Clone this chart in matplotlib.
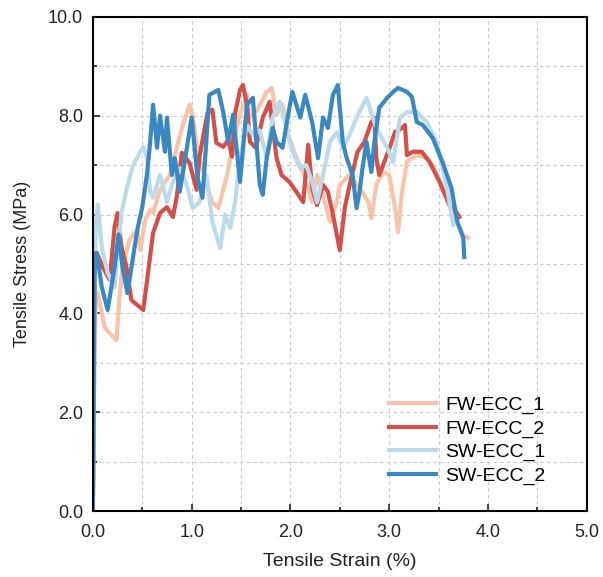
#!/usr/bin/env python3

# tensile stress-strain curves, FW-ECC vs SW-ECC

import matplotlib as mpl
mpl.use('Agg')
import matplotlib.pyplot as plt
from matplotlib.ticker import MultipleLocator, FormatStrFormatter

plt.rcParams['font.family'] = ['Liberation Sans', 'DejaVu Sans']

# values
fw1_strain = [0, 0.01, 0.03, 0.05, 0.12, 0.17, 0.24, 0.27, 0.30, 0.37, 0.45, 0.48,
        0.53, 0.58, 0.61, 0.68, 0.78, 0.85, 0.91, 0.98, 1.02, 1.06, 1.11, 1.15,
        1.21, 1.27, 1.36, 1.42, 1.49, 1.56, 1.59, 1.66, 1.76, 1.81, 1.86, 1.92,
        1.98, 2.05, 2.12, 2.17, 2.22, 2.27, 2.33, 2.40, 2.47, 2.50, 2.60, 2.70,
        2.79, 2.82, 2.87, 2.94, 3.00, 3.06, 3.09, 3.13, 3.18, 3.28, 3.38, 3.44,
        3.54, 3.65, 3.75, 3.80]
fw1_stress = [0, 2.0, 4.4, 4.41, 3.72, 3.6, 3.46, 4.33, 4.94, 5.49, 5.69, 5.28,
        5.89, 6.1, 6.03, 6.5, 6.8, 7.35, 7.81, 8.22, 7.9, 7.27, 6.94, 6.6,
        6.25, 6.13, 6.8, 7.47, 8.02, 8.42, 7.96, 8.1, 8.48, 8.56, 8.02, 8.22,
        7.6, 7.2, 6.9, 6.6, 6.25, 6.8, 6.4, 5.85, 6.25, 6.6, 6.8, 6.54,
        6.25, 5.93, 6.6, 6.86, 6.8, 6.13, 5.65, 6.46, 7.07, 7.2, 7.14, 7.0,
        6.54, 6.0, 5.59, 5.53]

fw2_strain = [0, 0.005, 0.01, 0.02, 0.04, 0.10, 0.17, 0.22, 0.25, 0.29, 0.34, 0.39,
        0.45, 0.51, 0.54, 0.61, 0.68, 0.75, 0.81, 0.85, 0.90, 0.98, 1.05, 1.08,
        1.16, 1.21, 1.25, 1.32, 1.37, 1.41, 1.44, 1.49, 1.52, 1.56, 1.59, 1.65,
        1.72, 1.79, 1.86, 1.91, 1.99, 2.06, 2.13, 2.18, 2.22, 2.27, 2.33, 2.38,
        2.43, 2.50, 2.55, 2.60, 2.68, 2.75, 2.82, 2.85, 2.87, 2.90, 2.99, 3.06,
        3.13, 3.16, 3.18, 3.24, 3.33, 3.41, 3.51, 3.61, 3.68, 3.71]
fw2_stress = [0, 2.6, 4.0, 5.0, 5.22, 4.94, 4.68, 5.75, 6.03, 5.34, 4.94, 4.27,
        4.17, 4.07, 4.53, 5.63, 6.03, 6.15, 5.95, 6.36, 7.25, 7.04, 6.5, 7.17,
        8.05, 8.12, 7.45, 7.37, 7.51, 7.17, 8.05, 8.52, 8.62, 8.22, 7.47, 7.35,
        7.96, 8.28, 7.14, 6.8, 6.66, 6.46, 6.25, 7.41, 6.54, 6.19, 6.6, 6.46,
        6.0, 5.28, 6.13, 6.6, 7.27, 7.47, 7.87, 7.96, 7.14, 6.8, 7.27, 7.67,
        7.75, 7.81, 7.2, 7.27, 7.27, 7.06, 6.66, 6.19, 6.05, 5.95]

sw1_strain = [0, 0.005, 0.01, 0.03, 0.05, 0.09, 0.15, 0.22, 0.29, 0.34, 0.40, 0.48,
        0.51, 0.55, 0.58, 0.61, 0.68, 0.75, 0.81, 0.88, 0.95, 1.01, 1.08, 1.15,
        1.21, 1.29, 1.34, 1.39, 1.44, 1.49, 1.56, 1.62, 1.69, 1.76, 1.82, 1.89,
        1.96, 2.02, 2.10, 2.16, 2.22, 2.27, 2.33, 2.40, 2.47, 2.53, 2.60, 2.67,
        2.77, 2.87, 2.98, 3.04, 3.11, 3.18, 3.28, 3.38, 3.48, 3.58, 3.63, 3.65]
sw1_stress = [0, 1.5, 4.0, 5.8, 6.2, 5.34, 4.82, 4.53, 6.03, 6.5, 6.96, 7.27,
        7.37, 7.14, 6.46, 6.34, 6.8, 6.25, 6.66, 6.94, 6.6, 6.13, 6.25, 6.8,
        5.85, 5.32, 6.0, 5.73, 6.25, 7.14, 7.81, 7.61, 7.7, 7.14, 7.96, 8.28,
        7.75, 7.27, 6.94, 7.0, 6.66, 6.25, 6.8, 7.47, 7.67, 7.35, 7.61, 7.96,
        8.36, 7.75, 7.35, 7.06, 7.96, 8.07, 8.07, 7.87, 7.47, 6.6, 6.0, 5.79]

sw2_strain = [0, 0.005, 0.01, 0.02, 0.04, 0.09, 0.15, 0.22, 0.26, 0.30, 0.35, 0.45,
        0.50, 0.55, 0.58, 0.61, 0.65, 0.68, 0.73, 0.75, 0.80, 0.83, 0.88, 0.93,
        1.00, 1.06, 1.11, 1.18, 1.27, 1.32, 1.37, 1.42, 1.49, 1.56, 1.62, 1.69,
        1.72, 1.76, 1.82, 1.86, 1.92, 1.99, 2.02, 2.10, 2.15, 2.22, 2.28, 2.33,
        2.38, 2.43, 2.48, 2.53, 2.57, 2.63, 2.67, 2.70, 2.73, 2.77, 2.82, 2.85,
        2.90, 2.98, 3.04, 3.09, 3.18, 3.23, 3.28, 3.34, 3.44, 3.54, 3.63, 3.69,
        3.75, 3.76]
sw2_stress = [0, 1.0, 3.0, 5.22, 5.22, 4.53, 4.07, 4.94, 5.6, 4.94, 4.41, 5.69,
        6.15, 6.84, 7.47, 8.22, 7.35, 8.0, 7.27, 7.96, 6.8, 7.14, 6.46, 7.07,
        7.96, 6.74, 6.34, 8.42, 8.52, 8.07, 7.47, 8.02, 6.66, 8.22, 8.36, 6.6,
        6.4, 7.14, 7.75, 7.47, 7.35, 8.16, 8.48, 7.96, 8.42, 7.87, 7.14, 7.96,
        7.75, 8.42, 8.62, 7.47, 7.14, 6.8, 6.13, 6.46, 6.94, 7.47, 6.86, 7.47,
        8.16, 8.36, 8.48, 8.56, 8.48, 8.38, 7.87, 7.81, 7.55, 7.06, 6.54, 5.85,
        5.53, 5.14]

labels = ["FW-ECC_1", "FW-ECC_2", "SW-ECC_1", "SW-ECC_2"]
colors = ["#F8C4A9", "#D1514A", "#BCDBEA", "#3A88C1"]

fig = plt.figure(figsize=(6.03, 5.77), dpi=100)
ax = fig.add_axes([0.154, 0.114, 0.819, 0.857])

series = [(fw1_strain, fw1_stress), (fw2_strain, fw2_stress),
        (sw1_strain, sw1_stress), (sw2_strain, sw2_stress)]
for (xs, ys), lab, col in zip(series, labels, colors):
    ax.plot(xs, ys, color=col, lw=3.0, label=lab, solid_joinstyle='round')

ax.set_xlim(0, 5)
ax.set_ylim(0, 10)
ax.xaxis.set_major_locator(MultipleLocator(1.0))
ax.xaxis.set_minor_locator(MultipleLocator(0.5))
ax.yaxis.set_major_locator(MultipleLocator(2.0))
ax.yaxis.set_minor_locator(MultipleLocator(1.0))
ax.xaxis.set_major_formatter(FormatStrFormatter('%.1f'))
ax.yaxis.set_major_formatter(FormatStrFormatter('%.1f'))

ax.grid(True, which='both', color='#c8c8c8', linestyle=(0, (3, 3)), lw=0.8)
ax.set_axisbelow(True)

ax.tick_params(which='both', direction='in', top=False, right=False,
        labelsize=13, colors='#222222', width=1.2)
ax.tick_params(which='major', length=5)
ax.tick_params(which='minor', length=3)
ax.tick_params(axis='x', which='major', pad=9)
ax.tick_params(axis='y', which='major', pad=7)
for sp in ax.spines.values():
    sp.set_linewidth(1.5)

ax.set_xlabel("Tensile Strain (%)", fontsize=14, color='#222222', labelpad=9)
ax.set_ylabel("Tensile Stress (MPa)", fontsize=13, color='#222222', labelpad=12)

ax.legend(loc='lower left', bbox_to_anchor=(0.6, 0.053), frameon=False,
        fontsize=14, handlelength=2.4, handletextpad=0.5, labelspacing=0.3,
        borderpad=0, borderaxespad=0)

plt.savefig("out.png", dpi=100)
plt.close('all')
